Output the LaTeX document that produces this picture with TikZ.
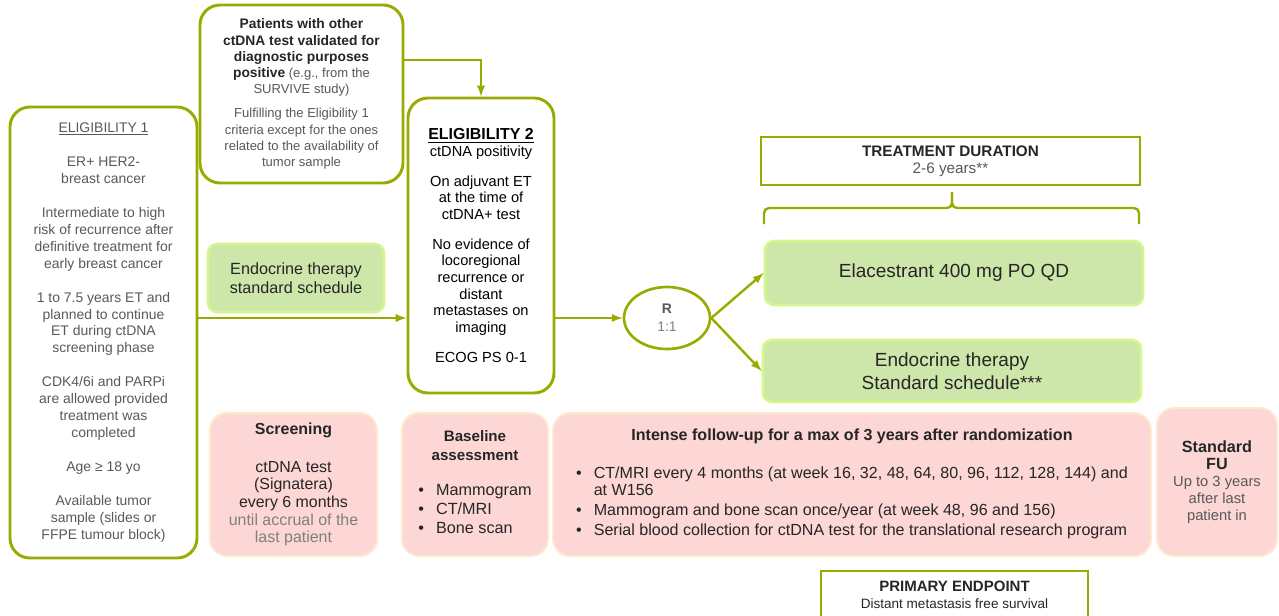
\documentclass[tikz,border=0pt]{standalone}
\usepackage{fontspec}
\setmainfont{Liberation Sans}
\usetikzlibrary{calc,shapes.geometric}
\definecolor{olivebd}{RGB}{153,170,0}
\definecolor{greenfill}{RGB}{205,230,170}
\definecolor{greenbd}{RGB}{212,246,140}
\definecolor{pinkfill}{RGB}{253,214,214}
\definecolor{pinkbd}{RGB}{253,233,206}
\definecolor{txtgray}{RGB}{89,89,89}
\definecolor{txtdark}{RGB}{38,38,38}
\definecolor{txtlight}{RGB}{128,128,128}
\newlength\pxu
\setlength\pxu{0.75bp}

\begin{document}
\begin{tikzpicture}[x=\pxu,y=-\pxu,
    every node/.style={inner sep=0pt,align=center,text=txtdark},
    olivebox/.style={draw=olivebd,line width=2.2pt,rounded corners=15pt,fill=white},
    greenbox/.style={draw=greenbd,line width=2pt,fill=greenfill,rounded corners=7pt},
    pinkbox/.style={draw=pinkbd,line width=1.5pt,fill=pinkfill,rounded corners=13pt},
    plainbox/.style={draw=olivebd,line width=1.8pt,fill=white},
    flow/.style={draw=olivebd,line width=1.8pt,-latex}]
    \useasboundingbox (0,0) rectangle (1279,615); % page size = reference

    % eligibility
    \node[olivebox,minimum width=187\pxu,minimum height=451\pxu,text=txtgray,
      font=\fontsize{10.5}{12.75}\selectfont] (eligone) at (103.5,332.5)
      {\underline{ELIGIBILITY\ 1}\\[12.75pt]
       ER+ HER2-\\ breast cancer\\[12.75pt]
       Intermediate to high\\ risk of recurrence after\\ definitive treatment for\\ early breast cancer\\[12.75pt]
       1 to 7.5 years ET and\\ planned to continue\\ ET during ctDNA\\ screening phase\\[12.75pt]
       CDK4/6i and PARPi\\ are allowed provided\\ treatment was\\ completed\\[12.75pt]
       Age ≥ 18 yo\\[12.75pt]
       Available tumor\\ sample (slides or\\ FFPE tumour block)};
    \node[olivebox,minimum width=203\pxu,minimum height=178\pxu,
      font=\fontsize{9.8}{12.2}\selectfont] (other) at (301.5,94)
      {{\fontsize{10.4}{12.2}\selectfont\bfseries Patients with other}\\
       {\fontsize{10.4}{12.2}\selectfont\bfseries ctDNA test validated for}\\
       {\fontsize{10.4}{12.2}\selectfont\bfseries diagnostic purposes}\\
       {\fontsize{10.4}{12.2}\selectfont\bfseries positive} \textcolor{txtgray}{(e.g., from the}\\ \textcolor{txtgray}{SURVIVE study)}\\[6pt]
       \textcolor{txtgray}{Fulfilling the Eligibility 1}\\ \textcolor{txtgray}{criteria except for the ones}\\
       \textcolor{txtgray}{related to the availability of}\\ \textcolor{txtgray}{tumor sample}};
    \node[olivebox,minimum width=146\pxu,minimum height=295\pxu,text=black,
      font=\fontsize{11}{12.5}\selectfont] (eligtwo) at (481,245.5)
      {{\fontsize{12}{13}\selectfont\bfseries\underline{ELIGIBILITY 2}}\\ ctDNA positivity\\[10pt]
       On adjuvant ET\\ at the time of\\ ctDNA+ test\\[10pt]
       No evidence of\\ locoregional\\ recurrence or\\ distant\\ metastases on\\ imaging\\[10pt]
       ECOG PS 0-1};
    \node[greenbox,minimum width=176\pxu,minimum height=68\pxu,
      font=\fontsize{12.2}{14.25}\selectfont] (etstd) at (296,278)
      {Endocrine therapy\\ standard schedule};

    % randomisation and arms
    \node[ellipse,draw=olivebd,line width=2pt,minimum width=86\pxu,minimum height=62\pxu,
      font=\fontsize{10.5}{13.5}\selectfont] (rand) at (667,318)
      {\textcolor{txtgray}{\textbf{R}}\\ \textcolor{txtlight}{1:1}};
    \node[plainbox,minimum width=379\pxu,minimum height=48\pxu,
      font=\fontsize{11.5}{12.75}\selectfont] (duration) at (950.5,161)
      {\textbf{TREATMENT DURATION}\\ \textcolor{txtgray}{2-6 years**}};
    \node[greenbox,minimum width=378\pxu,minimum height=64\pxu,
      font=\fontsize{14.3}{17.25}\selectfont] (elac) at (954,273)
      {Elacestrant 400 mg PO QD};
    \node[greenbox,minimum width=378\pxu,minimum height=62\pxu,
      font=\fontsize{14.3}{17.25}\selectfont] (etarm) at (952,371)
      {Endocrine therapy\\ Standard schedule***};
    \draw[olivebd,line width=1.8pt,rounded corners=5\pxu]
      (764,224) -- (764,208) -- (952,208) -- (952,192);
    \draw[olivebd,line width=1.8pt,rounded corners=5\pxu]
      (952,192) -- (952,208) -- (1139,208) -- (1139,224);

    % assessments
    \node[pinkbox,minimum width=167\pxu,minimum height=143\pxu,
      font=\fontsize{12}{13.3}\selectfont] (screen) at (293.5,484.5)
      {\textbf{Screening}\\[15pt] ctDNA test\\ (Signatera)\\ every 6 months\\
       \textcolor{txtlight}{until accrual of the}\\ \textcolor{txtlight}{last patient}};
    \node[pinkbox,minimum width=146\pxu,minimum height=143\pxu,
      font=\fontsize{12.2}{14.25}\selectfont] (baseline) at (475,484.5)
      {{\fontsize{11.4}{14.25}\selectfont\bfseries Baseline}\\
       {\fontsize{11.4}{14.25}\selectfont\bfseries assessment}\\[15.5pt]
       \begin{tabular}{@{}l@{\hspace{9pt}}l@{}}
        \textbullet & Mammogram\\ \textbullet & CT/MRI\\ \textbullet & Bone scan
       \end{tabular}};
    \node[pinkbox,minimum width=598\pxu,minimum height=143\pxu,
      font=\fontsize{12.1}{12.75}\selectfont] (intense) at (852,484.5)
      {\textbf{Intense follow-up for a max of 3 years after randomization}\\[16pt]
       \begin{tabular}{@{}l@{\hspace{9pt}}l@{}}
        \textbullet & CT/MRI every 4 months (at week 16, 32, 48, 64, 80, 96, 112, 128, 144) and\\
                    & at W156\\[2.5pt]
        \textbullet & Mammogram and bone scan once/year (at week 48, 96 and 156)\\[2pt]
        \textbullet & Serial blood collection for ctDNA test for the translational research program
       \end{tabular}};
    \node[pinkbox,minimum width=120\pxu,minimum height=148\pxu,
      font=\fontsize{11.1}{12.75}\selectfont] (stdfu) at (1217,482)
      {{\fontsize{12.2}{14.25}\selectfont\bfseries Standard}\\ {\fontsize{12.2}{14.25}\selectfont\bfseries FU}\\
       \textcolor{txtgray}{Up to 3 years}\\ \textcolor{txtgray}{after last}\\ \textcolor{txtgray}{patient in}};
    \node[plainbox,minimum width=267\pxu,minimum height=47\pxu,
      font=\fontsize{10.2}{12.75}\selectfont] (primary) at (954.5,594.5)
      {{\fontsize{11.3}{12.75}\selectfont\bfseries PRIMARY ENDPOINT}\\ Distant metastasis free survival};

    % connectors
    \draw[flow] ([yshift=34\pxu]other.east) -| (eligtwo.north);
    \draw[flow] (eligone.east |- rand.west) -- (eligtwo.west |- rand.west);
    \draw[flow] (eligtwo.east |- rand.west) -- (rand.west);
    \draw[flow] (rand.east) -- (elac.west);
    \draw[flow] (rand.east) -- (etarm.west);
\end{tikzpicture}
\end{document}
